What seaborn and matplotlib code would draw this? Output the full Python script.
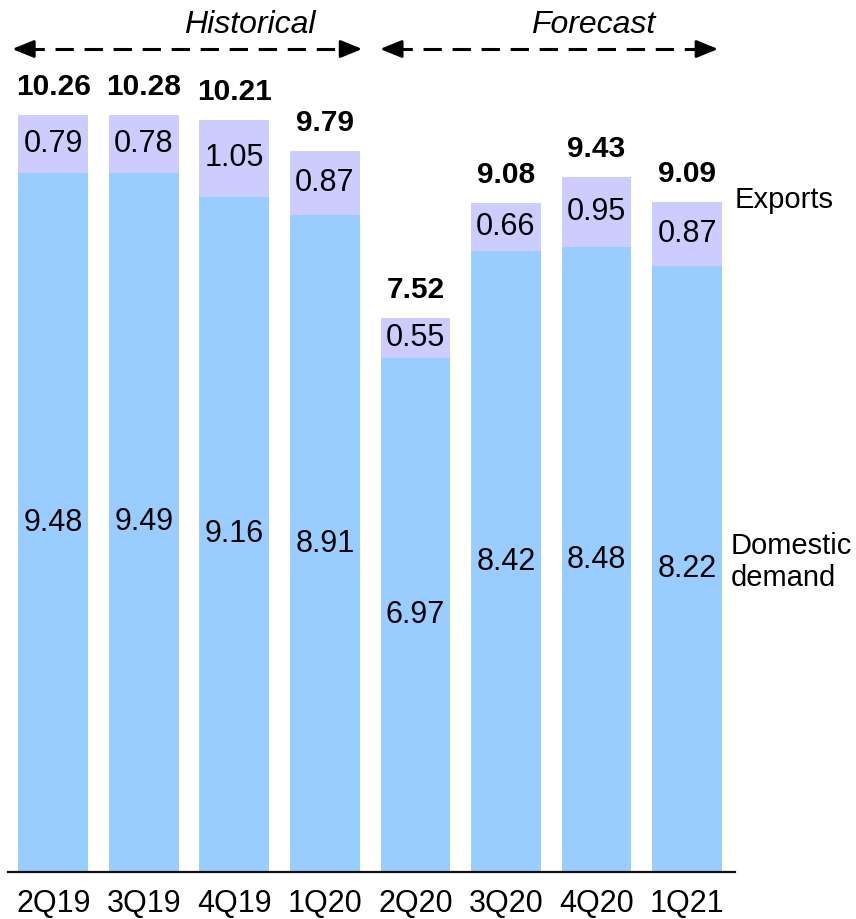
import matplotlib
matplotlib.use("Agg")
import matplotlib.pyplot as plt
import seaborn as sns
import pandas as pd

quarters = ["2Q19", "3Q19", "4Q19", "1Q20", "2Q20", "3Q20", "4Q20", "1Q21"]
domestic = [9.48, 9.49, 9.16, 8.91, 6.97, 8.42, 8.48, 8.22]
exports = [0.79, 0.78, 1.05, 0.87, 0.55, 0.66, 0.95, 0.87]
totals = [10.26, 10.28, 10.21, 9.79, 7.52, 9.08, 9.43, 9.09]

sns.set_theme(style="white")
plt.rcParams["font.family"] = ["Liberation Sans", "DejaVu Sans"]
plt.rcParams["text.color"] = "black"
plt.rcParams["xtick.color"] = "black"

df = pd.DataFrame({"quarter": quarters, "domestic": domestic,
                   "exports": exports, "total": [d + e for d, e in zip(domestic, exports)]})

W, H = 856, 919
fig = plt.figure(figsize=(W / 100, H / 100), dpi=100)
base_px = 872
ax = fig.add_axes([8 / W, (H - base_px) / H, 727 / W, base_px / H])

blue = "#99CCFF"
lav = "#CCCCFF"
sns.barplot(data=df, x="quarter", y="total", order=quarters, color=lav,
            width=0.77, saturation=1, ax=ax, linewidth=0)
sns.barplot(data=df, x="quarter", y="domestic", order=quarters, color=blue,
            width=0.77, saturation=1, ax=ax, linewidth=0)

ymax = base_px / 73.7
ax.set_ylim(0, ymax)
ax.set_xlim(-0.5, 7.53)
for s in ["top", "right", "left"]:
    ax.spines[s].set_visible(False)
ax.spines["bottom"].set_color("#111111")
ax.spines["bottom"].set_linewidth(1.6)
ax.set_yticks([])
ax.set_xlabel("")
ax.set_ylabel("")
ax.tick_params(axis="x", length=0, labelsize=22, pad=12, labelcolor="black")

fs = 22
for i, (d, e, t) in enumerate(zip(domestic, exports, totals)):
    ax.text(i, d / 2, f"{d:.2f}", ha="center", va="center", fontsize=fs)
    ax.text(i, d + e / 2, f"{e:.2f}", ha="center", va="center", fontsize=fs)
    ax.text(i, d + e + 0.38, f"{t:.2f}", ha="center", va="center",
            fontsize=21.5, fontweight="bold")

# Period arrows
arrow_y = (base_px - 49) / 73.7
text_y = (base_px - 25) / 73.7
def px2x(px):
    return (px - 53) / 90.57

for x0, x1, label, xc in [(12, 362, "Historical", 250), (380, 718, "Forecast", 593)]:
    a, b = px2x(x0), px2x(x1)
    ax.plot([a + 0.15, b - 0.15], [arrow_y, arrow_y], color="black", lw=2.2,
            dashes=(6, 3.5), clip_on=False)
    for start, end in [(a + 0.2, a), (b - 0.2, b)]:
        ax.annotate("", xy=(end, arrow_y), xytext=(start, arrow_y),
                    arrowprops=dict(arrowstyle="-|>,head_length=1.1,head_width=0.45",
                                    color="black", lw=2, shrinkA=0, shrinkB=0),
                    annotation_clip=False)
    ax.text(px2x(xc), text_y, label, ha="center", va="center", fontsize=23,
            style="italic")

# Series labels on the right
ax.text(px2x(735), (base_px - 200) / 73.7, "Exports", ha="left", va="center",
        fontsize=21, clip_on=False)
ax.text(px2x(731), (base_px - 562) / 73.7, "Domestic\ndemand", ha="left",
        va="center", fontsize=21, linespacing=1.2, clip_on=False)

fig.savefig("out.png", dpi=100)
